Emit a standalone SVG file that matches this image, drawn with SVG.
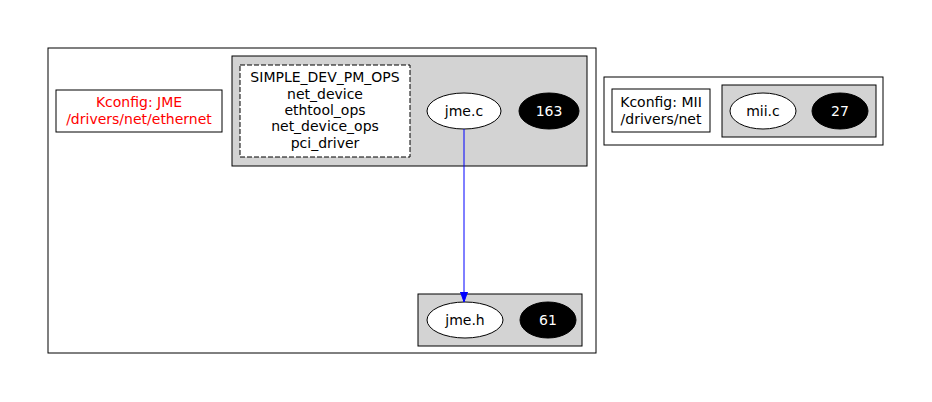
<svg xmlns="http://www.w3.org/2000/svg" width="932" height="402" viewBox="0 0 932 402">
<style>
text{font-family:"DejaVu Sans","Noto Sans",sans-serif;font-size:14px;text-anchor:middle}
.box{fill:#fff;stroke:#000;stroke-width:1}
.cl{fill:#d3d3d3;stroke:#000;stroke-width:1}
.dash{fill:#fff;stroke:#000;stroke-width:1;stroke-dasharray:5,2}
.file{fill:#fff;stroke:#000;stroke-width:1}
.cnt{fill:#000;stroke:#000;stroke-width:1}
.w{fill:#fff}
.red{fill:#ff0000}
</style>
<defs>
<marker id="arr" markerWidth="10" markerHeight="10" refX="10" refY="5" orient="auto" markerUnits="userSpaceOnUse">
<path d="M0,1.5 L10,5 L0,8.5 Z" fill="#0000ff" stroke="#0000ff" stroke-width="1"/>
</marker>
</defs>
<rect width="932" height="402" fill="#fff"/>
<g id="cluster_jme">
<rect class="box" x="48" y="48" width="548" height="305"/>
</g>
<g id="kconfig_jme">
<rect class="box" x="56" y="90" width="166" height="42"/>
<text class="red" x="139" y="106.5">Kconfig: JME</text>
<text class="red" x="139" y="123.5">/drivers/net/ethernet</text>
</g>
<g id="cluster_jme_c">
<rect class="cl" x="232" y="56" width="355" height="110"/>
</g>
<g id="symbols_jme_c">
<rect class="dash" x="240" y="65" width="170" height="92"/>
<text x="325" y="82.3">SIMPLE_DEV_PM_OPS</text>
<text x="325" y="98.6">net_device</text>
<text x="325" y="114.9">ethtool_ops</text>
<text x="325" y="131.2">net_device_ops</text>
<text x="325" y="147.5">pci_driver</text>
</g>
<g id="jme_c">
<ellipse class="file" cx="464" cy="111" rx="37" ry="18"/>
<text x="464" y="116">jme.c</text>
</g>
<g id="jme_c_count">
<ellipse class="cnt" cx="549" cy="111" rx="30" ry="18"/>
<text class="w" x="549" y="116">163</text>
</g>
<g id="cluster_jme_h">
<rect class="cl" x="418" y="294" width="164" height="52"/>
</g>
<g id="jme_h">
<ellipse class="file" cx="465" cy="320" rx="38" ry="18"/>
<text x="465" y="325">jme.h</text>
</g>
<g id="jme_h_count">
<ellipse class="cnt" cx="548" cy="320" rx="28" ry="18"/>
<text class="w" x="548" y="325">61</text>
</g>
<g id="cluster_mii">
<rect class="box" x="604" y="77" width="279" height="68"/>
</g>
<g id="kconfig_mii">
<rect class="box" x="612" y="89" width="98" height="43"/>
<text x="661" y="106.5">Kconfig: MII</text>
<text x="661" y="123.5">/drivers/net</text>
</g>
<g id="cluster_mii_c">
<rect class="cl" x="722" y="85" width="154" height="52"/>
</g>
<g id="mii_c">
<ellipse class="file" cx="763" cy="111" rx="33" ry="18"/>
<text x="763" y="116">mii.c</text>
</g>
<g id="mii_c_count">
<ellipse class="cnt" cx="840" cy="111" rx="28" ry="18"/>
<text class="w" x="840" y="116">27</text>
</g>
<g id="connectors">
<line x1="464" y1="129" x2="464" y2="302" stroke="#0000ff" stroke-width="1" marker-end="url(#arr)"/>
</g>
</svg>
